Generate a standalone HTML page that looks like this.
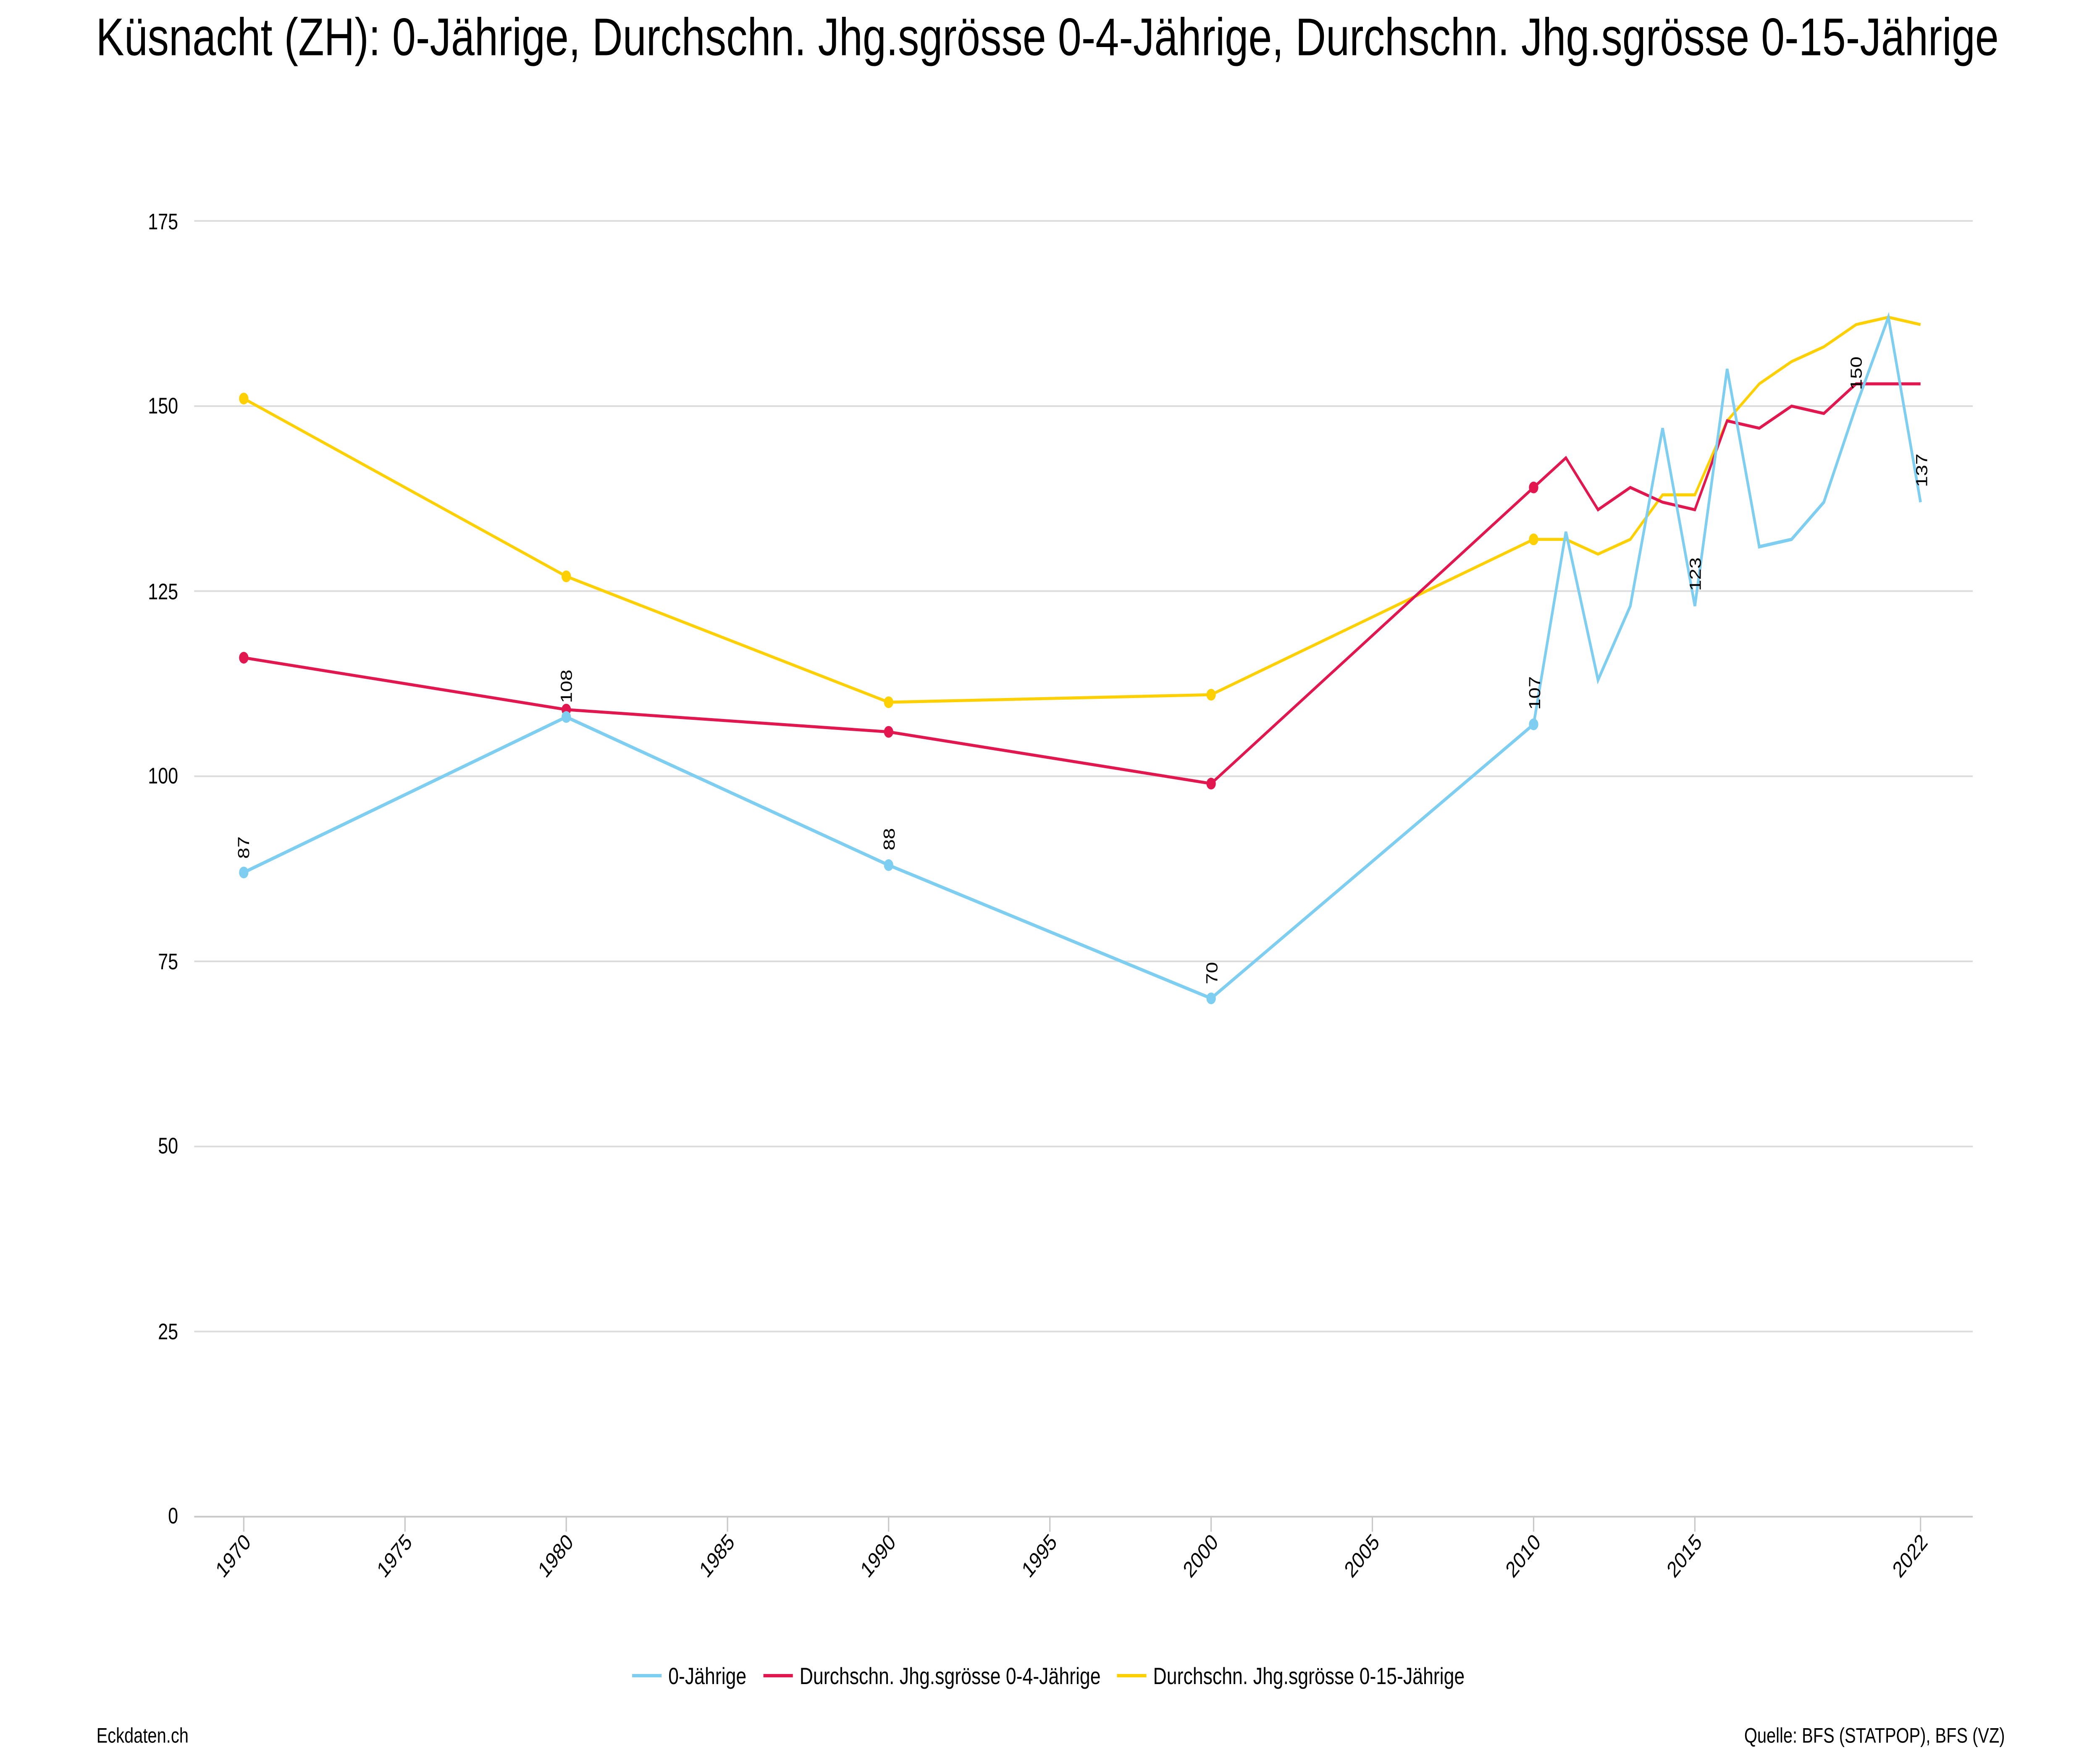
<!DOCTYPE html>
<html><head><meta charset="utf-8"><style>
html,body{margin:0;padding:0;background:#fff;width:100%;height:100%;overflow:hidden;}
svg{display:block;position:fixed;left:0;top:0;width:100vw;height:100vh;}
text{font-family:"Liberation Sans",sans-serif;fill:#000;}
</style></head><body>
<svg viewBox="0 0 1568 1045.4" preserveAspectRatio="none" xmlns="http://www.w3.org/2000/svg">
<rect width="1568" height="1045.4" fill="#fff"/>
<text x="782" y="33" font-size="31.6" text-anchor="middle">Küsnacht (ZH): 0-Jährige, Durchschn. Jhg.sgrösse 0-4-Jährige, Durchschn. Jhg.sgrösse 0-15-Jährige</text>
<g stroke="#dcdcdc" stroke-width="1">
<line x1="145" x2="1473" y1="132" y2="132"/><line x1="145" x2="1473" y1="242.6" y2="242.6"/>
<line x1="145" x2="1473" y1="353.1" y2="353.1"/><line x1="145" x2="1473" y1="463.7" y2="463.7"/>
<line x1="145" x2="1473" y1="574.3" y2="574.3"/><line x1="145" x2="1473" y1="684.9" y2="684.9"/>
<line x1="145" x2="1473" y1="795.4" y2="795.4"/>
</g>
<line x1="145" x2="1473" y1="906" y2="906" stroke="#c8c8c8" stroke-width="1"/>
<g stroke="#c8c8c8" stroke-width="1">
<line x1="182" x2="182" y1="906" y2="915"/><line x1="302.4" x2="302.4" y1="906" y2="915"/><line x1="422.8" x2="422.8" y1="906" y2="915"/><line x1="543.2" x2="543.2" y1="906" y2="915"/><line x1="663.5" x2="663.5" y1="906" y2="915"/><line x1="783.9" x2="783.9" y1="906" y2="915"/><line x1="904.3" x2="904.3" y1="906" y2="915"/><line x1="1024.7" x2="1024.7" y1="906" y2="915"/><line x1="1145.1" x2="1145.1" y1="906" y2="915"/><line x1="1265.5" x2="1265.5" y1="906" y2="915"/><line x1="1434" x2="1434" y1="906" y2="915"/>
</g>
<g font-size="13.5" text-anchor="end">
<text x="133" y="137">175</text><text x="133" y="247">150</text><text x="133" y="358">125</text><text x="133" y="468">100</text><text x="133" y="579">75</text><text x="133" y="689">50</text><text x="133" y="800">25</text><text x="133" y="910">0</text>
</g>
<g font-size="13.5" text-anchor="end">
<text transform="translate(188,922) rotate(-45)">1970</text>
<text transform="translate(308.4,922) rotate(-45)">1975</text>
<text transform="translate(428.8,922) rotate(-45)">1980</text>
<text transform="translate(549.2,922) rotate(-45)">1985</text>
<text transform="translate(669.5,922) rotate(-45)">1990</text>
<text transform="translate(789.9,922) rotate(-45)">1995</text>
<text transform="translate(910.3,922) rotate(-45)">2000</text>
<text transform="translate(1030.7,922) rotate(-45)">2005</text>
<text transform="translate(1151.1,922) rotate(-45)">2010</text>
<text transform="translate(1271.5,922) rotate(-45)">2015</text>
<text transform="translate(1440,922) rotate(-45)">2022</text>
</g>
<polyline fill="none" stroke="#ffd000" stroke-width="1.8" points="182,238.1 422.8,344.3 663.5,419.5 904.3,415 1145.1,322.2 1169.2,322.2 1193.2,331 1217.3,322.2 1241.4,295.6 1265.5,295.6 1289.6,251.4 1313.6,229.3 1337.7,216 1361.8,207.2 1385.9,193.9 1410,189.5 1434,193.9"/>
<polyline fill="none" stroke="#e3174f" stroke-width="1.8" points="182,392.9 422.8,423.9 663.5,437.2 904.3,468.1 1145.1,291.2 1169.2,273.5 1193.2,304.5 1217.3,291.2 1241.4,300 1265.5,304.5 1289.6,251.4 1313.6,255.8 1337.7,242.6 1361.8,247 1385.9,229.3 1410,229.3 1434,229.3"/>
<polyline fill="none" stroke="#7dcef0" stroke-width="2" points="182,521.2 422.8,428.3 663.5,516.8 904.3,596.4 1145.1,432.7 1169.2,317.7 1193.2,406.2 1217.3,362 1241.4,255.8 1265.5,362 1289.6,220.4 1313.6,326.6 1337.7,322.2 1361.8,300 1385.9,242.6 1410,189.5 1434,300"/>
<g fill="#ffd000"><circle cx="182" cy="238.1" r="3.5"/><circle cx="422.8" cy="344.3" r="3.5"/><circle cx="663.5" cy="419.5" r="3.5"/><circle cx="904.3" cy="415" r="3.5"/><circle cx="1145.1" cy="322.2" r="3.5"/></g>
<g fill="#e3174f"><circle cx="182" cy="392.9" r="3.5"/><circle cx="422.8" cy="423.9" r="3.5"/><circle cx="663.5" cy="437.2" r="3.5"/><circle cx="904.3" cy="468.1" r="3.5"/><circle cx="1145.1" cy="291.2" r="3.5"/></g>
<g fill="#7dcef0"><circle cx="182" cy="521.2" r="3.5"/><circle cx="422.8" cy="428.3" r="3.5"/><circle cx="663.5" cy="516.8" r="3.5"/><circle cx="904.3" cy="596.4" r="3.5"/><circle cx="1145.1" cy="432.7" r="3.5"/></g>
<g font-size="12">
<text transform="translate(186,513) rotate(-90)">87</text>
<text transform="translate(427,420) rotate(-90)">108</text>
<text transform="translate(668,508) rotate(-90)">88</text>
<text transform="translate(909,588) rotate(-90)">70</text>
<text transform="translate(1150,424) rotate(-90)">107</text>
<text transform="translate(1270,353) rotate(-90)">123</text>
<text transform="translate(1390,233) rotate(-90)">150</text>
<text transform="translate(1439,291) rotate(-90)">137</text>
</g>
<line x1="472" x2="494" y1="1001" y2="1001" stroke="#7dcef0" stroke-width="2"/>
<text x="499" y="1006" font-size="14">0-Jährige</text>
<line x1="570" x2="592" y1="1001" y2="1001" stroke="#e3174f" stroke-width="2"/>
<text x="597" y="1006" font-size="14">Durchschn. Jhg.sgrösse 0-4-Jährige</text>
<line x1="834" x2="856" y1="1001" y2="1001" stroke="#ffd000" stroke-width="2"/>
<text x="861" y="1006" font-size="14">Durchschn. Jhg.sgrösse 0-15-Jährige</text>
<text x="72" y="1041" font-size="12.5">Eckdaten.ch</text>
<text x="1497" y="1041" font-size="12.5" text-anchor="end">Quelle: BFS (STATPOP), BFS (VZ)</text>
</svg>
</body></html>
